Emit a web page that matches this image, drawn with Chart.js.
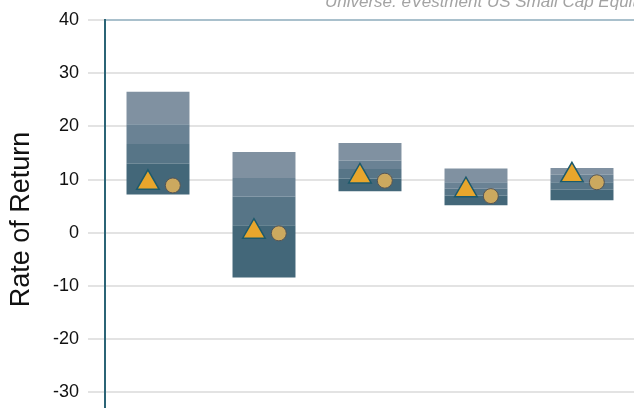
<!DOCTYPE html>
<html>
<head>
<meta charset="utf-8">
<script src="https://cdn.jsdelivr.net/npm/chart.js@4.4.1/dist/chart.umd.min.js"></script>
<style>
  html, body { margin: 0; padding: 0; background: #fff; overflow: hidden; }
  #wrap { width: 680px; height: 440px; }
</style>
</head>
<body>
<div id="wrap"><canvas id="myChart" width="680" height="440"></canvas></div>
<script>
// periods (x labels sit below the visible area)
const periods = ['1 Year', '3 Years', '5 Years', '7 Years', '10 Years'];

// universe percentiles, rate of return (%)
const pct5 = [26.5, 15.2, 16.9, 12.1, 12.2];
const pct25 = [20.4, 10.3, 13.6, 9.5, 10.9];
const median = [16.7, 6.8, 12.0, 8.3, 9.5];
const pct75 = [13.0, 1.4, 10.2, 7.0, 8.1];
const pct95 = [7.2, -8.4, 7.8, 5.2, 6.1];

// portfolio (triangle) and benchmark (circle)
const portfolio = [9.4, 0.2, 10.6, 8.0, 10.8];
const benchmark = [8.9, -0.1, 9.8, 6.9, 9.5];

const yTicks = [-30, -20, -10, 0, 10, 20, 30, 40];

const subtitle = 'Universe: eVestment US Small Cap Equity';

function band(lo, hi) {
    return periods.map((p, i) => [lo[i], hi[i]]);
}

const bandColors = ['#436779', '#577587', '#6a8294', '#8091a1'];
const bandData = [band(pct95, pct75), band(pct75, median), band(median, pct25), band(pct25, pct5)];

const subtitlePlugin = {
    id: 'subtitle',
    afterDraw(chart) {
        const ctx = chart.ctx;
        ctx.save();
        ctx.font = 'italic 17px "Liberation Sans", Arial, sans-serif';
        ctx.fillStyle = '#a3a3a3';
        ctx.textAlign = 'left';
        ctx.textBaseline = 'alphabetic';
        ctx.fillText(subtitle, chart.chartArea.left + 220, 7);
        ctx.restore();
    }
};

const datasets = [
    {
        type: 'scatter',
        label: 'Portfolio',
        xAxisID: 'xp',
        order: 0,
        data: portfolio.map((v, i) => ({ x: i - 0.095, y: v })),
        pointStyle: 'triangle',
        pointRadius: 13,
        pointHoverRadius: 13,
        backgroundColor: '#e8a62c',
        borderColor: '#1d5a6c',
        borderWidth: 1.5
    },
    {
        type: 'scatter',
        label: 'Benchmark',
        xAxisID: 'xp',
        order: 0,
        data: benchmark.map((v, i) => ({ x: i + 0.14, y: v })),
        pointStyle: 'circle',
        pointRadius: 7.5,
        pointHoverRadius: 7.5,
        backgroundColor: '#cca95f',
        borderColor: '#555555',
        borderWidth: 1
    }
];

bandData.forEach((d, k) => {
    datasets.push({
        type: 'bar',
        label: 'band ' + k,
        order: 1,
        data: d,
        backgroundColor: bandColors[k],
        borderWidth: 0,
        grouped: false,
        categoryPercentage: 1.0,
        barPercentage: 0.594
    });
});

new Chart(document.getElementById('myChart').getContext('2d'), {
    type: 'bar',
    data: { labels: periods, datasets: datasets },
    options: {
        responsive: false,
        animation: false,
        devicePixelRatio: 1,
        layout: { padding: { top: 20, right: 45, bottom: 21, left: 0 } },
        plugins: {
            legend: { display: false },
            tooltip: { enabled: false }
        },
        scales: {
            x: { display: false, offset: true },
            xp: { type: 'linear', display: false, offset: false, min: -0.5, max: 4.5 },
            y: {
                min: -35,
                max: 40,
                afterBuildTicks: s => { s.ticks = yTicks.map(v => ({ value: v })); },
                afterFit: s => { s.width = 105; },
                ticks: {
                    color: '#111111',
                    padding: 9,
                    font: { family: '"Liberation Sans", Arial, sans-serif', size: 18 }
                },
                grid: {
                    color: c => (c.tick && c.tick.value === 40 ? '#a9c0cc' : '#e3e3e3'),
                    lineWidth: 2,
                    tickLength: 17,
                    tickColor: '#e3e3e3',
                    tickWidth: 2
                },
                border: { color: '#2b6476', width: 2 },
                title: {
                    display: true,
                    text: 'Rate of Return',
                    color: '#111111',
                    padding: { top: 5, bottom: 0 },
                    font: { family: '"Liberation Sans", Arial, sans-serif', size: 27 }
                }
            }
        }
    },
    plugins: [subtitlePlugin]
});
</script>
</body>
</html>
